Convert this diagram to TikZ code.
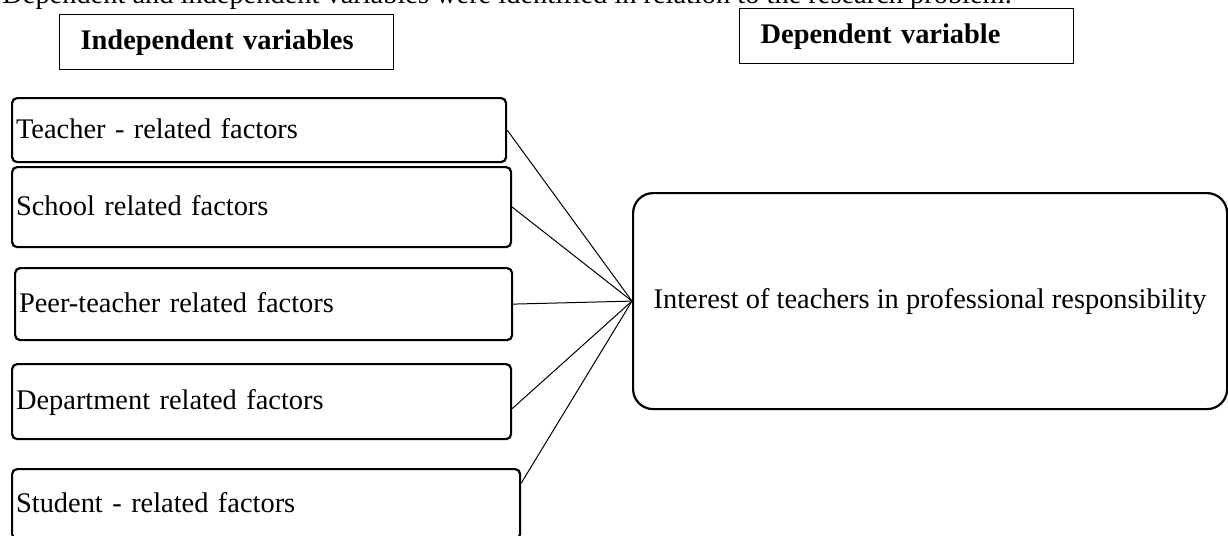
\documentclass[tikz,border=0pt]{standalone}
\usepackage{fontspec}
\setmainfont{Liberation Serif}
\begin{document}
\begin{tikzpicture}[x=0.5pt, y=-0.5pt, font=\fontsize{14.2}{17}\selectfont,
	head/.style = {draw, line width=0.65pt, anchor=north west, minimum height=27.5pt, inner xsep=10.5pt, text width=146pt, align=left, text height=0.85em, text depth=0.15em, font=\fontsize{14.2}{17}\selectfont\bfseries},
	factor/.style = {draw, line width=1.1pt, rounded corners=2.5pt, anchor=north west, inner xsep=2pt, align=left, text height=0.85em, text depth=0.05em},
	outcome/.style = {draw, line width=1.1pt, rounded corners=10pt, anchor=north west, minimum width=297pt, minimum height=108pt, text height=0.8em, text depth=0.1em},
	link/.style = {line width=0.5pt}]
	\useasboundingbox (0,0) rectangle (1228,536);
	\node[anchor=base west, inner sep=0pt] (intro) at (2,3) {Dependent and independent variables were identified in relation to the research problem.};
	\node[head] (indep) at (59,14) {Independent variables};
	\node[head] (dep) at (739,8) {Dependent variable};
	% factors
	\node[factor, text width=243pt, minimum height=32pt] (teacher) at (11,97) {Teacher - related factors};
	\node[factor, text width=245.5pt, minimum height=40pt] (school) at (11,166) {School related factors};
	\node[factor, text width=244.5pt, minimum height=36pt] (peer) at (14,267) {Peer-teacher related factors};
	\node[factor, text width=245.5pt, minimum height=37.5pt] (dept) at (11,363) {Department related factors};
	\node[factor, text width=250pt, minimum height=35pt] (student) at (11,468) {Student - related factors};
	\node[outcome] (interest) at (632,192) {Interest of teachers in professional responsibility};
	\draw[link] (teacher.east) -- (interest.west);
	\draw[link] (school.east) -- (interest.west);
	\draw[link] (peer.east) -- (interest.west);
	\draw[link] ([yshift=-3.5pt]dept.east) -- (interest.west);
	\draw[link] ([yshift=10.5pt]student.east) -- (interest.west);
\end{tikzpicture}
\end{document}
